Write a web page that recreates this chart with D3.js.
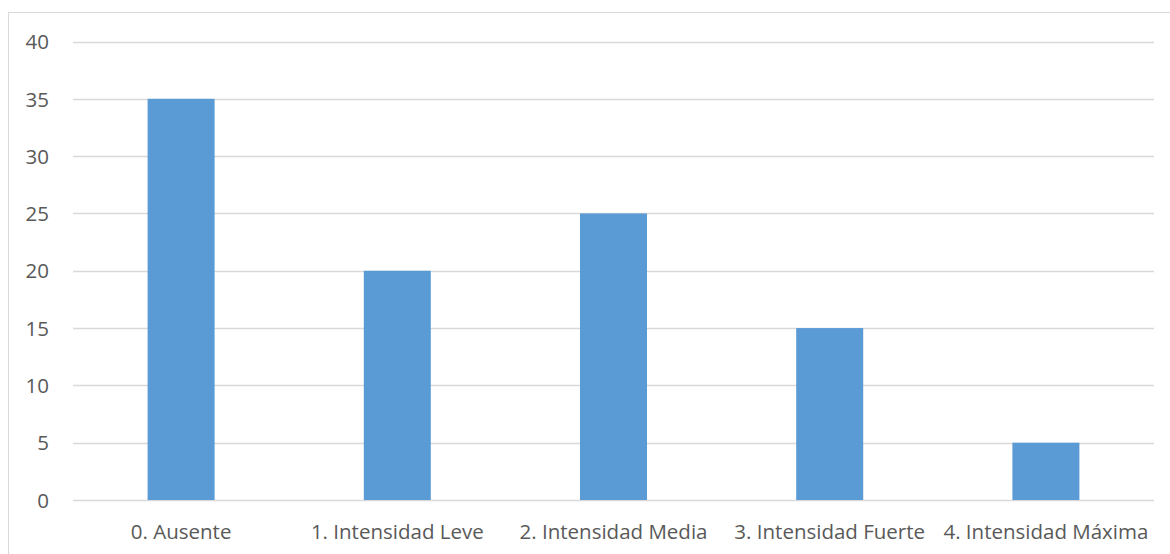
<!DOCTYPE html>
<html>
<head>
<meta charset="utf-8">
<script src="https://cdn.jsdelivr.net/npm/d3@7"></script>
<style>
  body { margin: 0; background: #fff; }
  .tick text { font-family: "Open Sans", sans-serif; fill: #595959; }
</style>
</head>
<body>
<div id="chart"></div>
<script>
// data
const categories = ["0. Ausente", "1. Intensidad Leve", "2. Intensidad Media", "3. Intensidad Fuerte", "4. Intensidad Máxima"];
const values = [35, 20, 25, 15, 5];
const yTicks = [0, 5, 10, 15, 20, 25, 30, 35, 40];

const width = 1170, height = 554;
const plotLeft = 73, plotRight = 1154, plotTop = 41.5, plotBottom = 500;

const svg = d3.select("#chart").append("svg")
  .attr("width", width)
  .attr("height", height);

// chart border
svg.append("rect")
  .attr("x", 8.5).attr("y", 12.5)
  .attr("width", 1180).attr("height", 600)
  .style("fill", "white")
  .style("stroke", "#d9d9d9")
  .style("stroke-width", "1px");

const x = d3.scaleBand()
  .domain(categories)
  .range([plotLeft, plotRight])
  .paddingInner(0.69)
  .paddingOuter(0.345);

const y = d3.scaleLinear()
  .domain([0, 40])
  .range([plotBottom, plotTop]);

// gridlines
svg.append("g")
  .selectAll("line")
  .data(yTicks)
  .join("line")
  .attr("x1", plotLeft).attr("x2", plotRight)
  .attr("y1", d => Math.round(y(d)) + 0.5)
  .attr("y2", d => Math.round(y(d)) + 0.5)
  .style("stroke", "#d9d9d9")
  .style("stroke-width", "1.5px");

// bars
svg.append("g")
  .selectAll("rect")
  .data(values)
  .join("rect")
  .attr("x", (d, i) => x(categories[i]))
  .attr("y", d => y(d))
  .attr("width", x.bandwidth())
  .attr("height", d => y(0) - y(d))
  .style("fill", "#5b9bd5");

// y axis
const ya = svg.append("g")
  .attr("transform", "translate(" + (plotLeft - 24) + ",0)")
  .call(d3.axisLeft(y).tickValues(yTicks).tickSize(0).tickPadding(0));
ya.select(".domain").remove();
ya.selectAll("text").style("font-size", "20.5px").attr("dy", "0.35em");

// x axis
const xa = svg.append("g")
  .attr("transform", "translate(0," + plotBottom + ")")
  .call(d3.axisBottom(x).tickSize(0).tickPadding(24));
xa.select(".domain").remove();
xa.selectAll("text").style("font-size", "20.5px");
</script>
</body>
</html>
